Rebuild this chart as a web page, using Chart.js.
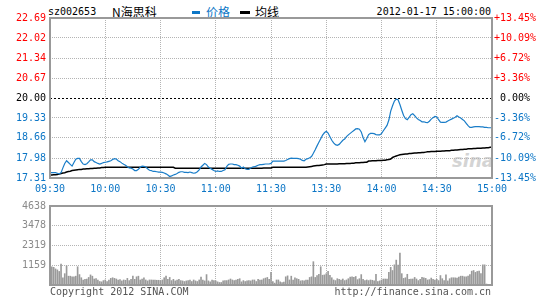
<!DOCTYPE html>
<html lang="zh-CN">
<head>
<meta charset="UTF-8">
<title>N海思科 分时</title>
<script src="https://cdn.jsdelivr.net/npm/chart.js"></script>
<style>
    body {
        margin: 0;
        width: 545px;
        height: 300px;
        background: #fff;
        position: relative;
        overflow: hidden;
        font-family: "DejaVu Sans Mono", monospace;
        font-size: 10px;
    }
    canvas { position: absolute; left: 0; }
    #priceChart { top: 0; }
    #volChart { top: 196px; }
    .t { position: absolute; white-space: nowrap; line-height: 12px; }
    .cjk { font-family: "Noto Sans CJK SC", sans-serif; font-size: 12px; line-height: 14px; }
    .bar { position: absolute; height: 3px; }
    .logo { position: absolute; left: 452px; top: 150px; font: italic bold 18px "DejaVu Sans", sans-serif; color: #d4d4d4; }
</style>
</head>
<body>
    <div class="t" style="left:48px;top:6px;">sz002653</div>
    <div class="t cjk" style="left:112px;top:5px;">N海思科</div>
    <div class="bar" style="left:192px;top:11px;width:8px;background:#0c76c6;"></div>
    <div class="t cjk" style="left:206px;top:5px;color:#0c76c6;">价格</div>
    <div class="bar" style="left:240px;top:11px;width:10px;background:#000;"></div>
    <div class="t cjk" style="left:255px;top:5px;">均线</div>
    <div class="t" style="right:54px;top:6px;">2012-01-17 15:00:00</div>
    <div class="logo">sina</div>

    <canvas id="priceChart" width="545" height="200"></canvas>
    <canvas id="volChart" width="545" height="104"></canvas>

    <div class="t" style="left:50px;top:286px;color:#555;">Copyright 2012 SINA.COM</div>
    <div class="t" style="right:54px;top:286px;color:#555;">http://finance.sina.com.cn</div>

<script>
    // tick labels
    const timeLabels = ['09:30', '10:00', '10:30', '11:00', '11:30', '13:30', '14:00', '14:30', '15:00'];
    const priceTicks = ['22.69', '22.02', '21.34', '20.67', '20.00', '19.33', '18.66', '17.98', '17.31'];
    const pctTicks = ['+13.45%', '+10.09%', '+6.72%', '+3.36%', ' 0.00%', '-3.36%', '-6.72%', '-10.09%', '-13.45%'];
    const volTicks = ['4638', '3478', '2319', '1159', '0'];
    const prevClose = 20.00;

    // one value per minute, 09:30-11:30 then 13:01-15:00 (241 points)
    const price = [
        17.49, 17.49, 17.49, 17.49, 17.47, 17.45, 17.49, 17.65, 17.80, 17.89,
        17.83, 17.77, 17.71, 17.83, 17.94, 17.97, 17.97, 17.86, 17.78, 17.76,
        17.79, 17.85, 17.92, 17.92, 17.86, 17.83, 17.80, 17.78, 17.80, 17.83,
        17.84, 17.85, 17.87, 17.89, 17.93, 17.96, 17.95, 17.89, 17.86, 17.81,
        17.77, 17.74, 17.69, 17.65, 17.64, 17.61, 17.56, 17.56, 17.60, 17.67,
        17.71, 17.70, 17.68, 17.62, 17.57, 17.56, 17.53, 17.53, 17.52, 17.51,
        17.51, 17.50, 17.48, 17.45, 17.41, 17.36, 17.38, 17.41, 17.43, 17.46,
        17.50, 17.52, 17.52, 17.50, 17.50, 17.49, 17.51, 17.49, 17.47, 17.48,
        17.52, 17.58, 17.68, 17.74, 17.80, 17.76, 17.68, 17.64, 17.60, 17.56,
        17.53, 17.55, 17.53, 17.53, 17.56, 17.59, 17.70, 17.77, 17.78, 17.78,
        17.76, 17.76, 17.74, 17.71, 17.64, 17.68, 17.62, 17.60, 17.60, 17.65,
        17.68, 17.69, 17.71, 17.74, 17.76, 17.76, 17.77, 17.78, 17.78, 17.78,
        17.80,
        17.88, 17.88, 17.88, 17.88, 17.88, 17.88, 17.88, 17.90, 17.93, 17.96,
        17.98, 17.97, 17.97, 17.97, 17.96, 17.94, 17.90, 17.89, 17.94, 17.96,
        17.99, 18.03, 18.14, 18.26, 18.39, 18.51, 18.63, 18.75, 18.83, 18.88,
        18.82, 18.70, 18.58, 18.49, 18.43, 18.41, 18.44, 18.51, 18.58, 18.62,
        18.70, 18.76, 18.81, 18.86, 18.91, 18.96, 18.97, 18.95, 18.86, 18.67,
        18.53, 18.64, 18.77, 18.81, 18.81, 18.80, 18.77, 18.76, 18.76, 18.80,
        18.90, 18.99, 19.08, 19.26, 19.56, 19.74, 19.90, 19.96, 19.94, 19.78,
        19.59, 19.41, 19.31, 19.27, 19.35, 19.44, 19.47, 19.41, 19.33, 19.28,
        19.24, 19.20, 19.20, 19.18, 19.17, 19.22, 19.29, 19.34, 19.38, 19.37,
        19.27, 19.19, 19.18, 19.18, 19.19, 19.23, 19.26, 19.29, 19.32, 19.35,
        19.40, 19.36, 19.33, 19.28, 19.23, 19.15, 19.07, 19.01, 19.01, 19.03,
        19.04, 19.04, 19.04, 19.03, 19.03, 19.01, 19.01, 19.00, 19.00, 19.00
    ];

    const avgPrice = [
        17.41, 17.41, 17.42, 17.42, 17.43, 17.44, 17.46, 17.48, 17.49, 17.51,
        17.53, 17.54, 17.56, 17.57, 17.58, 17.59, 17.60, 17.60, 17.61, 17.61,
        17.62, 17.62, 17.63, 17.63, 17.64, 17.64, 17.65, 17.65, 17.66, 17.66,
        17.67, 17.67, 17.67, 17.67, 17.67, 17.67, 17.67, 17.67, 17.67, 17.67,
        17.67, 17.67, 17.67, 17.67, 17.67, 17.67, 17.67, 17.67, 17.67, 17.67,
        17.67, 17.67, 17.67, 17.67, 17.67, 17.67, 17.67, 17.67, 17.67, 17.67,
        17.67, 17.67, 17.67, 17.67, 17.67, 17.67, 17.67, 17.67, 17.64, 17.64,
        17.64, 17.64, 17.64, 17.64, 17.64, 17.64, 17.64, 17.64, 17.64, 17.64,
        17.64, 17.64, 17.64, 17.64, 17.64, 17.64, 17.64, 17.64, 17.64, 17.64,
        17.64, 17.64, 17.64, 17.64, 17.64, 17.64, 17.64, 17.64, 17.64, 17.64,
        17.64, 17.64, 17.64, 17.64, 17.64, 17.64, 17.64, 17.64, 17.64, 17.64,
        17.64, 17.64, 17.64, 17.64, 17.64, 17.64, 17.65, 17.65, 17.65, 17.65,
        17.65,
        17.67, 17.67, 17.67, 17.67, 17.67, 17.67, 17.67, 17.67, 17.67, 17.67,
        17.67, 17.67, 17.67, 17.67, 17.67, 17.67, 17.67, 17.67, 17.67, 17.68,
        17.69, 17.70, 17.71, 17.72, 17.73, 17.73, 17.74, 17.75, 17.76, 17.78,
        17.78, 17.78, 17.78, 17.78, 17.78, 17.78, 17.79, 17.79, 17.79, 17.79,
        17.80, 17.80, 17.80, 17.81, 17.81, 17.82, 17.82, 17.82, 17.83, 17.83,
        17.84, 17.84, 17.88, 17.88, 17.89, 17.89, 17.89, 17.90, 17.90, 17.90,
        17.91, 17.91, 17.92, 17.93, 17.95, 18.00, 18.03, 18.05, 18.07, 18.09,
        18.10, 18.11, 18.12, 18.12, 18.13, 18.13, 18.14, 18.15, 18.15, 18.16,
        18.16, 18.17, 18.17, 18.18, 18.19, 18.19, 18.20, 18.20, 18.20, 18.21,
        18.21, 18.21, 18.22, 18.22, 18.23, 18.23, 18.23, 18.24, 18.24, 18.25,
        18.25, 18.26, 18.27, 18.27, 18.28, 18.28, 18.29, 18.29, 18.29, 18.30,
        18.30, 18.31, 18.31, 18.31, 18.32, 18.32, 18.33, 18.33, 18.34, 18.34
    ];

    const volume = [
        999, 1073, 1036, 944, 888, 796, 1221, 426, 666, 1129, 518, 518, 481, 481, 518, 1073,
        611, 426, 296, 333, 352, 444, 592, 518, 352, 370, 296, 204, 185, 259, 296,
        204, 296, 389, 426, 389, 352, 296, 315, 241, 296, 278, 389, 259, 333, 518,
        333, 481, 518, 296, 352, 426, 296, 241, 296, 296, 296, 296, 278, 278, 259,
        296, 426, 518, 333, 444, 259, 333, 241, 296, 333, 259, 241, 204, 241, 259,
        296, 204, 296, 241, 204, 296, 463, 296, 241, 611, 241, 185, 296, 259, 241,
        185, 148, 148, 241, 259, 259, 296, 352, 296, 259, 296, 333, 370, 185, 259,
        204, 241, 259, 241, 296, 296, 204, 333, 296, 296, 370, 407, 444, 333, 740,
        204, 111, 296, 296, 185, 148, 167, 481, 537, 296, 518, 296, 426, 370, 333,
        241, 259, 241, 296, 296, 444, 481, 1369, 444, 555, 629, 1073, 574, 592, 666,
        796, 574, 426, 296, 259, 370, 333, 296, 352, 259, 296, 370, 463, 481, 444,
        500, 315, 370, 611, 333, 259, 296, 259, 296, 278, 241, 629, 204, 241, 296,
        352, 352, 352, 740, 1036, 851, 1184, 1462, 1166, 1869, 666, 389, 426, 629, 333,
        352, 352, 444, 352, 259, 333, 444, 426, 389, 296, 315, 407, 333, 296, 333,
        259, 555, 370, 259, 592, 241, 370, 426, 426, 426, 407, 463, 518, 518, 481,
        481, 518, 611, 814, 851, 740, 796, 814, 666, 1184, 1184, 56, 0, 0, 2183
    ];

    const RED = '#ff0000';
    const BLUE = '#0c76c6';
    const GRID = '#b4b4b4';
    const FONT = { family: 'DejaVu Sans Mono', size: 10 };

    function priceColor(v) {
        if (Math.abs(v - prevClose) < 0.001) return '#000';
        return v > prevClose ? RED : BLUE;
    }

    // gray frame around plot + dashed line at previous close
    const framePlugin = {
        id: 'frame',
        beforeDatasetsDraw(chart, args, opts) {
            if (opts.baseLine === undefined) return;
            const a = chart.chartArea;
            const ctx = chart.ctx;
            const y = Math.round(chart.scales.y.getPixelForValue(opts.baseLine)) + 0.5;
            ctx.save();
            ctx.strokeStyle = '#000';
            ctx.lineWidth = 1;
            ctx.setLineDash([2, 2]);
            ctx.beginPath();
            ctx.moveTo(a.left, y);
            ctx.lineTo(a.right, y);
            ctx.stroke();
            ctx.restore();
        },
        afterDraw(chart) {
            const a = chart.chartArea;
            const ctx = chart.ctx;
            ctx.save();
            ctx.strokeStyle = '#999';
            ctx.lineWidth = 2;
            ctx.strokeRect(a.left, a.top, a.right - a.left, a.bottom - a.top);
            ctx.restore();
        }
    };

    const pricePts = price.map((v, i) => ({ x: i, y: v }));
    const avgPts = avgPrice.map((v, i) => ({ x: i, y: v }));
    const volPts = volume.map((v, i) => ({ x: i, y: v }));

    new Chart(document.getElementById('priceChart'), {
        type: 'line',
        data: {
            datasets: [{
                data: pricePts,
                borderColor: '#1a7dc8',
                borderWidth: 1.2,
                pointRadius: 0,
                tension: 0
            }, {
                data: avgPts,
                borderColor: '#000',
                borderWidth: 1.5,
                pointRadius: 0,
                tension: 0
            }]
        },
        options: {
            responsive: false,
            animation: false,
            layout: { padding: { top: 18 } },
            plugins: {
                legend: { display: false },
                tooltip: { enabled: false },
                frame: { baseLine: prevClose }
            },
            scales: {
                x: {
                    type: 'linear',
                    min: 0,
                    max: 240,
                    afterFit: (s) => { s.height = 22; },
                    grid: { color: GRID, drawTicks: false },
                    border: { display: false, dash: [1, 1] },
                    ticks: {
                        stepSize: 30,
                        autoSkip: false,
                        maxRotation: 0,
                        padding: 5,
                        color: BLUE,
                        font: FONT,
                        callback: (v) => timeLabels[v / 30]
                    }
                },
                y: {
                    position: 'left',
                    min: 17.31,
                    max: 22.69,
                    afterFit: (s) => { s.width = 50; },
                    afterBuildTicks: (s) => { s.ticks = priceTicks.map(t => ({ value: parseFloat(t) })); },
                    grid: {
                        drawTicks: false,
                        color: (c) => (c.tick && Math.abs(c.tick.value - prevClose) < 0.001) ? 'rgba(0,0,0,0)' : GRID
                    },
                    border: { display: false, dash: [1, 1] },
                    ticks: {
                        padding: 4,
                        font: FONT,
                        color: (c) => priceColor(c.tick.value),
                        callback: (v, i) => priceTicks[i]
                    }
                },
                y2: {
                    position: 'right',
                    min: 17.31,
                    max: 22.69,
                    afterFit: (s) => { s.width = 53; },
                    afterBuildTicks: (s) => { s.ticks = priceTicks.map(t => ({ value: parseFloat(t) })); },
                    grid: { display: false, drawTicks: false },
                    border: { display: false },
                    ticks: {
                        padding: 2,
                        font: FONT,
                        color: (c) => priceColor(c.tick.value),
                        callback: (v, i) => pctTicks[i]
                    }
                }
            }
        },
        plugins: [framePlugin]
    });

    new Chart(document.getElementById('volChart'), {
        type: 'bar',
        data: {
            datasets: [{
                data: volPts,
                backgroundColor: '#9a9a9a',
                barThickness: 1
            }]
        },
        options: {
            responsive: false,
            animation: false,
            layout: { padding: { top: 6, bottom: 15, right: 53 } },
            plugins: {
                legend: { display: false },
                tooltip: { enabled: false },
                frame: {}
            },
            scales: {
                x: {
                    type: 'linear',
                    min: 0,
                    max: 240,
                    offset: false,
                    afterFit: (s) => { s.height = 0; },
                    grid: { color: GRID, drawTicks: false, offset: false },
                    border: { display: false, dash: [1, 1] },
                    ticks: { display: false, stepSize: 30 }
                },
                y: {
                    min: 0,
                    max: 4638,
                    afterFit: (s) => { s.width = 50; },
                    afterBuildTicks: (s) => { s.ticks = volTicks.map(t => ({ value: parseFloat(t) })); },
                    grid: { color: GRID, drawTicks: false },
                    border: { display: false, dash: [1, 1] },
                    ticks: {
                        padding: 4,
                        font: FONT,
                        color: '#8a8a8a',
                        callback: (v, i) => (v === 0 ? '' : volTicks[i])
                    }
                }
            }
        },
        plugins: [framePlugin]
    });
</script>
</body>
</html>
